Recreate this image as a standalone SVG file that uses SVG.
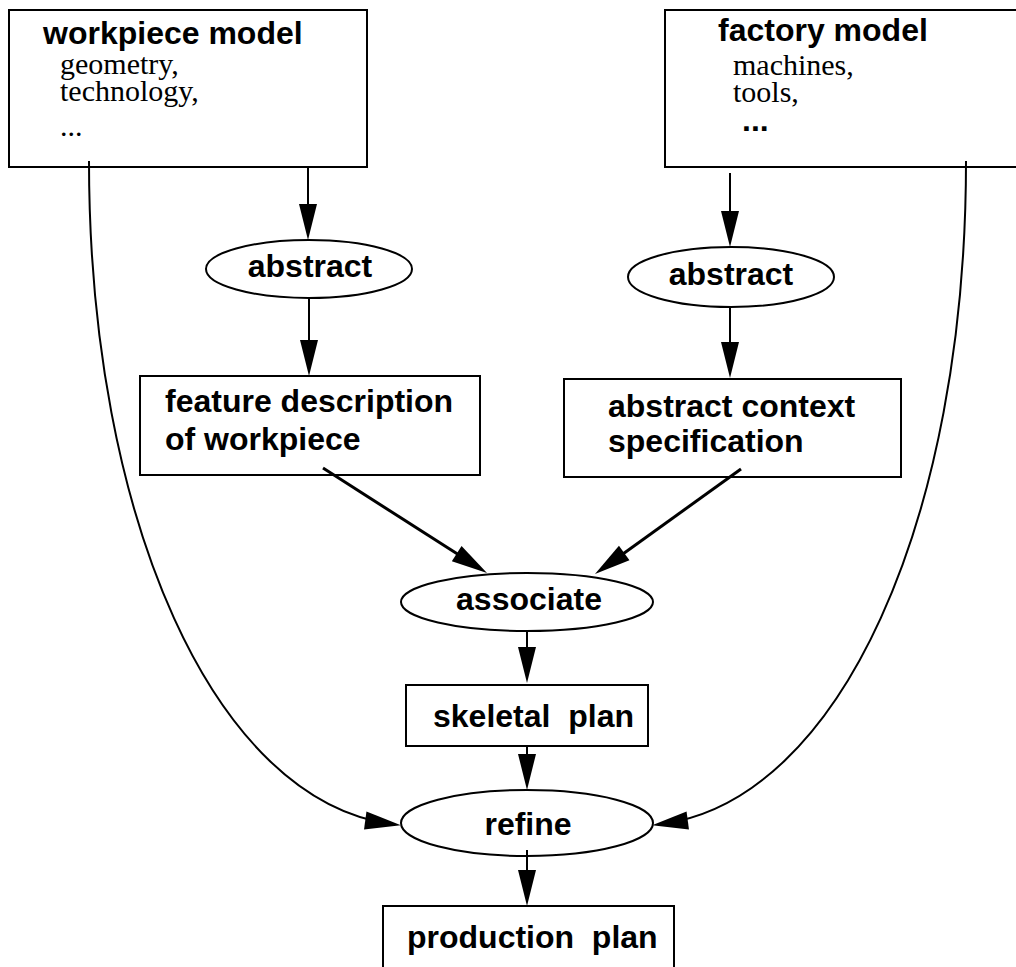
<svg xmlns="http://www.w3.org/2000/svg" width="1016" height="967" viewBox="0 0 1016 967">
<style>
.box{fill:#fff;stroke:#000;stroke-width:2}
.ell{fill:#fff;stroke:#000;stroke-width:2}
.b{font-family:"Liberation Sans",Arial,sans-serif;font-weight:bold;font-size:32px;fill:#000}
.s{font-family:"Liberation Serif","Times New Roman",serif;font-size:30px;fill:#000}
.c{text-anchor:middle}
.ln{fill:none;stroke:#000;stroke-width:2;marker-end:url(#ah)}
.thick{stroke-width:3}
</style>
<defs>
<marker id="ah" markerUnits="userSpaceOnUse" markerWidth="40" markerHeight="20" refX="26" refY="9" orient="auto" overflow="visible">
<path d="M0,0 L36,9 L0,18 Z" fill="#000"/>
</marker>
</defs>
<rect width="1016" height="967" fill="#fff"/>
<g id="workpiece-model">
<rect class="box" x="9" y="10" width="358" height="157"/>
<text class="b" x="43" y="44">workpiece model</text>
<text class="s" x="60" y="74">geometry,</text>
<text class="s" x="60" y="101">technology,</text>
<text class="s" x="60" y="136">...</text>
</g>
<g id="factory-model">
<rect class="box" x="665" y="10" width="360" height="157"/>
<text class="b" x="718" y="41">factory model</text>
<text class="s" x="733" y="75">machines,</text>
<text class="s" x="733" y="102">tools,</text>
<text class="b" x="742" y="131">...</text>
</g>
<g id="abstract-left">
<ellipse class="ell" cx="309" cy="269" rx="103" ry="29"/>
<text class="b c" x="310" y="277">abstract</text>
</g>
<g id="abstract-right">
<ellipse class="ell" cx="731" cy="277" rx="103" ry="30"/>
<text class="b c" x="731" y="285">abstract</text>
</g>
<g id="feature-description">
<rect class="box" x="140" y="376" width="340" height="99"/>
<text class="b" x="165" y="412">feature description</text>
<text class="b" x="165" y="450">of workpiece</text>
</g>
<g id="abstract-context">
<rect class="box" x="564" y="379" width="337" height="98"/>
<text class="b" x="608" y="417">abstract context</text>
<text class="b" x="608" y="452">specification</text>
</g>
<g id="associate">
<ellipse class="ell" cx="527" cy="602" rx="126" ry="29"/>
<text class="b c" x="529" y="610">associate</text>
</g>
<g id="skeletal-plan">
<rect class="box" x="406" y="685" width="242" height="61"/>
<text class="b" x="433" y="727" xml:space="preserve">skeletal  plan</text>
</g>
<g id="refine">
<ellipse class="ell" cx="527" cy="823" rx="126" ry="33"/>
<text class="b c" x="528" y="835">refine</text>
</g>
<g id="production-plan">
<rect class="box" x="383" y="906" width="291" height="70"/>
<text class="b" x="407" y="948" xml:space="preserve">production  plan</text>
</g>
<g id="connectors">
<path class="ln" d="M308,168 L308,230"/>
<path class="ln" d="M309,298 L309,366"/>
<path class="ln" d="M730,173 L730,237"/>
<path class="ln" d="M730,307 L730,368"/>
<path class="ln thick" d="M323,468 L478.6,567.6"/>
<path class="ln thick" d="M741,469 L603.1,568.2"/>
<path class="ln" d="M527,632 L527,673"/>
<path class="ln" d="M527,747 L527,780"/>
<path class="ln" d="M527,850 L527,896"/>
<path class="ln" d="M89,161 C89,520 215,800 391,824"/>
<path class="ln" d="M966,161 C966,520 840,800 662,824"/>
</g>
</svg>
